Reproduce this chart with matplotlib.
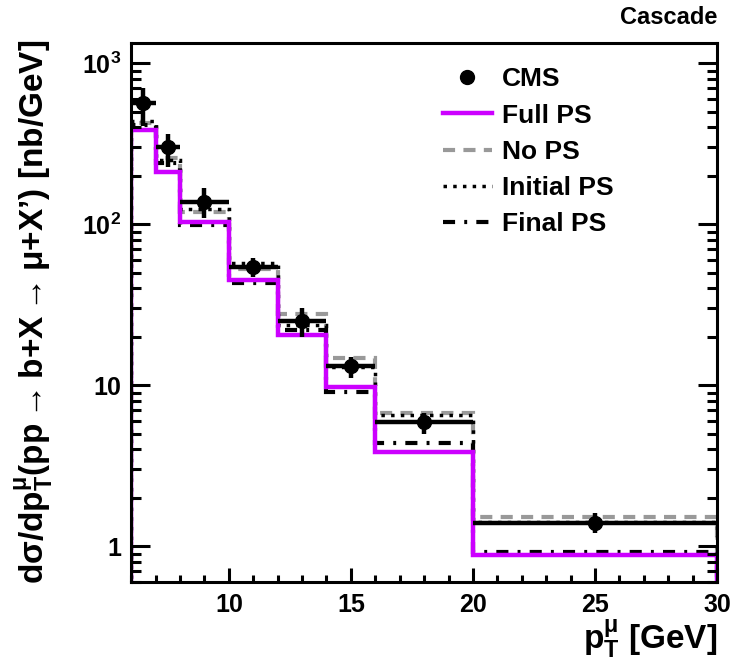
import matplotlib
matplotlib.use("Agg")
import matplotlib.pyplot as plt
import numpy as np
from matplotlib.lines import Line2D
from matplotlib.ticker import FixedLocator, FixedFormatter, LogLocator, MultipleLocator, NullFormatter

plt.rcParams['font.family'] = ['Liberation Sans', 'DejaVu Sans']
plt.rcParams['font.weight'] = 'bold'
plt.rcParams['mathtext.fontset'] = 'custom'
plt.rcParams['mathtext.rm'] = 'Liberation Sans:bold'
plt.rcParams['mathtext.it'] = 'Liberation Sans:bold'
plt.rcParams['mathtext.bf'] = 'Liberation Sans:bold'
plt.rcParams['mathtext.sf'] = 'Liberation Sans:bold'
plt.rcParams['mathtext.fallback'] = 'cm'

# bin edges in pT [GeV]
edges = [6, 7, 8, 10, 12, 14, 16, 20, 30]

# CMS data points
cms_x = [6.5, 7.5, 9.0, 11.0, 13.0, 15.0, 18.0, 25.0]
cms_y = [565, 301, 137, 54, 25, 13.1, 5.9, 1.39]
cms_lo = [410, 228, 109, 47, 20, 11.0, 5.0, 1.2]
cms_hi = [700, 362, 168, 62, 30, 15.0, 6.7, 1.6]

# Cascade predictions
full_ps = [384, 210, 103, 45, 20.4, 9.7, 3.84, 0.88]
no_ps = [424, 257, 119, 53, 27.6, 14.7, 6.7, 1.51]
initial_ps = [440, 250, 125, 57, 23.5, 12.9, 6.5, 1.41]
final_ps = [415, 240, 99, 43, 22, 9.1, 4.36, 0.92]

magenta = '#cc00ff'
gray = '#999999'
dash_ns = (0, (2.9, 2.0))
dot_ls = (0, (1, 1.8))
dashdot_ls = (0, (2.9, 2.2, 0.7, 2.2))

fig = plt.figure(figsize=(7.37, 6.65), dpi=100)
ax = fig.add_axes([0.178, 0.125, 0.795, 0.81])

ax.stairs(no_ps, edges, color=gray, lw=3, linestyle=dash_ns)
ax.stairs(initial_ps, edges, color='black', lw=2.5, linestyle=dot_ls)
ax.stairs(final_ps, edges, color='black', lw=3, linestyle=dashdot_ls)
ax.stairs(full_ps, edges, color=magenta, lw=3.2)

xerr = [np.array(cms_x) - np.array(edges[:-1]), np.array(edges[1:]) - np.array(cms_x)]
yerr = [np.array(cms_y) - np.array(cms_lo), np.array(cms_hi) - np.array(cms_y)]
ax.errorbar(cms_x, cms_y, xerr=xerr, yerr=yerr, fmt='o', color='black',
            markersize=10, elinewidth=3.2, capsize=0, zorder=5)

ax.set_yscale('log')
ax.set_xlim(6, 30)
ax.set_ylim(0.6, 1330)

ax.yaxis.set_major_locator(FixedLocator([1, 10, 100, 1000]))
ax.yaxis.set_major_formatter(FixedFormatter(['1', '10', r'$10^{2}$', r'$10^{3}$']))
ax.yaxis.set_minor_locator(LogLocator(base=10, subs=np.arange(2, 10)))
ax.yaxis.set_minor_formatter(NullFormatter())
ax.xaxis.set_major_locator(MultipleLocator(5))
ax.xaxis.set_minor_locator(MultipleLocator(1))

ax.tick_params(which='both', direction='in', right=True, top=False, width=2.2, labelsize=18)
ax.tick_params(axis='x', pad=8)
ax.tick_params(axis='y', pad=7)
ax.tick_params(axis='y', which='major', length=14)
ax.tick_params(axis='y', which='minor', length=7)
ax.tick_params(axis='x', which='major', length=10)
ax.tick_params(axis='x', which='minor', length=5)
for s in ax.spines.values():
    s.set_linewidth(2.2)

ax.set_xlabel(r'p$_{\mathrm{T}}^{\mu}$ [GeV]', fontsize=24, fontweight='bold', loc='right', labelpad=0)
ax.set_ylabel(r'd$\sigma$/dp$_{\mathrm{T}}^{\mu}$(pp$\rightarrow$b+X$\rightarrow$$\mu$+X’) [nb/GeV]',
              fontsize=24, fontweight='bold', loc='top')
ax.yaxis.set_label_coords(-0.13, 1.006)

fig.text(0.974, 0.974, 'Cascade', ha='right', va='center', fontsize=17, fontweight='bold')

handles = [
    Line2D([], [], marker='o', color='black', linestyle='none', markersize=10),
    Line2D([], [], color=magenta, lw=3.2),
    Line2D([], [], color=gray, lw=3, linestyle=dash_ns),
    Line2D([], [], color='black', lw=2.5, linestyle=dot_ls),
    Line2D([], [], color='black', lw=3, linestyle=dashdot_ls),
]
labels = ['CMS', 'Full PS', 'No PS', 'Initial PS', 'Final PS']
ax.legend(handles, labels, loc='upper left', bbox_to_anchor=(0.532, 0.955), frameon=False,
          fontsize=19, handlelength=1.86, handletextpad=0.38, labelspacing=0.46, borderpad=0,
          borderaxespad=0)

fig.savefig('out.png', dpi=100)
